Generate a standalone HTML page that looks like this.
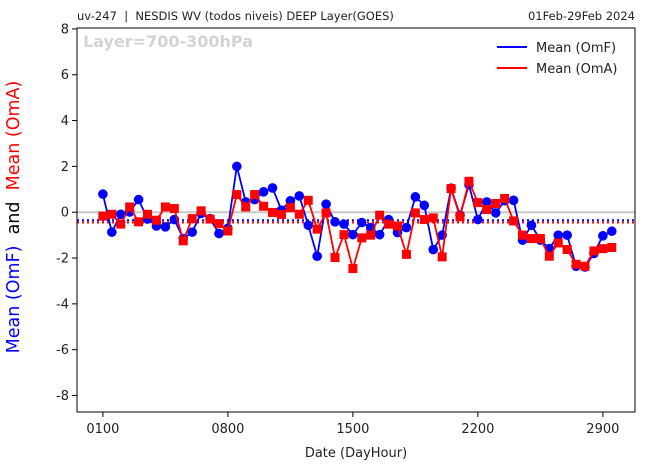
<!DOCTYPE html>
<html><head><meta charset="utf-8"><style>
body{margin:0;background:#fff;font-family:"Liberation Sans","DejaVu Sans",sans-serif;}
svg text{font-family:"DejaVu Sans","Liberation Sans",sans-serif;}
</style></head><body>
<svg id="chart" width="645" height="470" viewBox="0 0 645 470" xmlns="http://www.w3.org/2000/svg">
<text x="77" y="20" font-size="11.5" fill="#222">uv-247 &#160;| &#160;NESDIS WV (todos niveis) DEEP Layer(GOES)</text>
<text x="635" y="20" font-size="11.5" fill="#222" text-anchor="end">01Feb-29Feb 2024</text>
<g id="plot"></g>
<rect x="77" y="28" width="558" height="384" fill="none" stroke="#000" stroke-width="1"/>
<text x="83" y="47" font-size="16" font-weight="bold" fill="#d3d3d3">Layer=700-300hPa</text>
<g>
<line x1="497" y1="47" x2="527" y2="47" stroke="#0000ff" stroke-width="2"/>
<text x="536" y="52" font-size="13" fill="#222">Mean (OmF)</text>
<line x1="497" y1="68" x2="527" y2="68" stroke="#ff0000" stroke-width="2"/>
<text x="536" y="73" font-size="13" fill="#222">Mean (OmA)</text>
</g>
<text x="356" y="457" font-size="13" fill="#222" text-anchor="middle">Date (DayHour)</text>
<text transform="translate(19,217) rotate(-90)" font-size="17.5" text-anchor="middle"><tspan fill="#0000ff">Mean (OmF)</tspan><tspan fill="#000"> &#160;and &#160;</tspan><tspan fill="#ff0000">Mean (OmA)</tspan></text>
</svg>
<script>
const omf = [0.79,-0.87,-0.09,0.01,0.55,-0.3,-0.6,-0.64,-0.32,-1.15,-0.87,-0.05,-0.28,-0.93,-0.7,2.0,0.45,0.55,0.89,1.06,0.09,0.5,0.71,-0.57,-1.92,0.35,-0.42,-0.52,-0.98,-0.45,-0.67,-0.98,-0.32,-0.89,-0.67,0.67,0.3,-1.63,-1.0,1.05,-0.13,1.2,-0.32,0.45,-0.03,0.5,0.52,-1.22,-0.57,-1.22,-1.59,-1.0,-1.0,-2.36,-2.39,-1.8,-1.03,-0.83];
const oma = [-0.17,-0.09,-0.52,0.23,-0.42,-0.09,-0.35,0.23,0.16,-1.25,-0.28,0.06,-0.3,-0.5,-0.82,0.77,0.23,0.77,0.26,-0.01,-0.1,0.2,-0.09,0.52,-0.74,-0.03,-1.98,-0.98,-2.46,-1.12,-1.0,-0.13,-0.52,-0.6,-1.84,-0.03,-0.32,-0.25,-1.95,1.03,-0.2,1.35,0.42,0.12,0.38,0.6,-0.38,-1.0,-1.15,-1.15,-1.92,-1.34,-1.63,-2.27,-2.36,-1.69,-1.59,-1.54];
const meanOmf = -0.35;
const meanOma = -0.45;
const xTickIdx = [0,14,28,42,56];
const xTickLabels = ["0100","0800","1500","2200","2900"];
const yTicks = [-8,-6,-4,-2,0,2,4,6,8];

const L=77,R=635,T=28,B=412, X0=-2.9, X1=59.6, Y0=-8.72, Y1=8.04;
const sx=i=>L+(i-X0)/(X1-X0)*(R-L);
const sy=v=>B-(v-Y0)/(Y1-Y0)*(B-T);
const NS="http://www.w3.org/2000/svg";
const g=document.getElementById('plot');
function mk(t,a,p){const e=document.createElementNS(NS,t);for(const k in a)e.setAttribute(k,a[k]);(p||g).appendChild(e);return e;}

let e=mk('line',{x1:L,x2:R,y1:sy(0),y2:sy(0),stroke:'#c8c8c8','stroke-width':2});


e=mk('line',{x1:L,x2:R,y1:sy(meanOmf),y2:sy(meanOmf),stroke:'#0000ff','stroke-width':2,'stroke-dasharray':'2,3'});


e=mk('line',{x1:L,x2:R,y1:sy(meanOma),y2:sy(meanOma),stroke:'#ff0000','stroke-width':2,'stroke-dasharray':'2,3'});



yTicks.forEach(v=>{
  const t=mk('line',{x1:L-5,x2:L,y1:sy(v),y2:sy(v),stroke:'#000'});
  
  
  const tx=mk('text',{x:L-8,y:sy(v)+4.5,'font-size':13,'text-anchor':'end',fill:'#222'});
  tx.textContent=v;
  
  
});
xTickIdx.forEach((i,k)=>{
  const t=mk('line',{x1:sx(i),x2:sx(i),y1:B,y2:B+5,stroke:'#000'});
  
  
  const tx=mk('text',{x:sx(i),y:B+21,'font-size':13,'text-anchor':'middle',fill:'#222'});
  tx.textContent=xTickLabels[k];
  
  
});

function series(vals,color,sq,name){
  const p=mk('polyline',{points:vals.map((v,i)=>sx(i)+','+sy(v)).join(' '),fill:'none',stroke:color,'stroke-width':1.8});
  
  
  vals.forEach((v,i)=>{
    let m;
    if(sq) m=mk('rect',{x:sx(i)-4.5,y:sy(v)-4.5,width:9,height:9,fill:color});
    else m=mk('circle',{cx:sx(i),cy:sy(v),r:4.8,fill:color});
    
    
  });
}
series(omf,'#0000ff',false,'omf');
series(oma,'#ff0000',true,'oma');
</script>
</body></html>
